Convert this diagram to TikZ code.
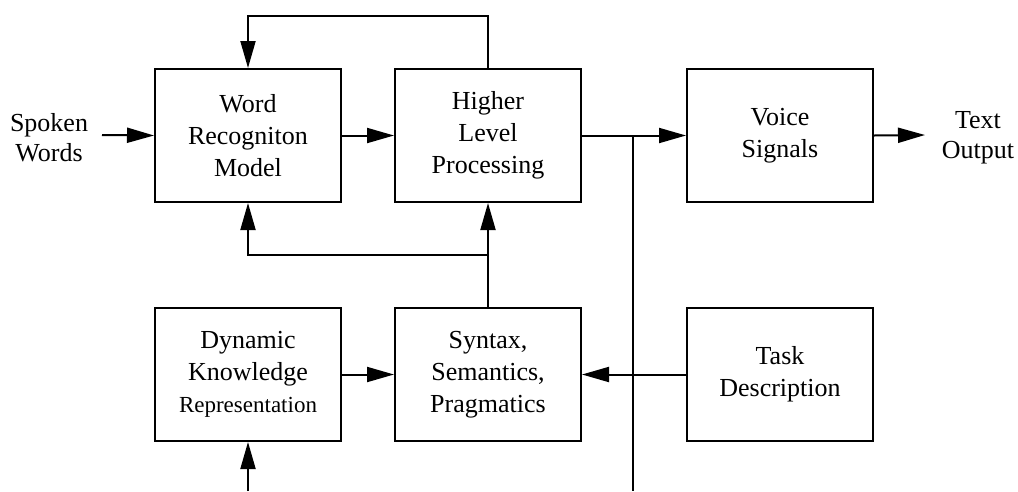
\documentclass[tikz,border=0pt]{standalone}
\usepackage{fontspec}
\setmainfont{Liberation Serif}
\usetikzlibrary{arrows.meta}
\begin{document}
\begin{tikzpicture}[x=1pt,y=-1pt,
  blk/.style={draw, line width=2pt, minimum width=186pt, minimum height=133pt, inner sep=0pt, align=center, font=\fontsize{26}{32}\selectfont},
  lbl/.style={inner sep=0pt, align=center, font=\fontsize{26}{30}\selectfont},
  conn/.style={line width=2pt},
  arr/.style={line width=2pt, -{Triangle[length=27pt,width=15pt]}}]
\useasboundingbox (0,0) rectangle (1018,491);
\node[blk] (word) at (248,135.5) {Word\\Recogniton\\Model};
\node[blk] (higher) at (488,135.5) {Higher\\Level\\Processing};
\node[blk] (voice) at (780,135.5) {Voice\\Signals};
\node[blk] (dyn) at (248,374.5) {Dynamic\\Knowledge\\{\fontsize{23}{30}\selectfont Representation}};
\node[blk] (syn) at (488,374.5) {Syntax,\\Semantics,\\Pragmatics};
\node[blk] (task) at (780,374.5) {Task\\Description};
\node[lbl] (sw) at (49,138) {Spoken\\Words};
\node[lbl] (to) at (978,138) {Text\\Output};
\coordinate (swout) at (102,135);
\coordinate (toin) at (925,135);
\coordinate (top) at (488,16);
\coordinate (mid) at (488,255);
\coordinate (br) at (633,135);
\coordinate (brend) at (633,491);
\coordinate (dynin) at (248,491);
\draw[arr] (swout) -- (word.west);
\draw[arr] (word.east) -- (higher.west);
\draw[arr] (higher.east) -- (voice.west);
\draw[arr] (voice.east) -- (toin);
\draw[conn] (br) -- (brend);
\draw[arr] (higher.north) -- (top) -| (word.north);
\draw[arr] (syn.north) -- (higher.south);
\draw[arr] (mid) -| (word.south);
\draw[arr] (dyn.east) -- (syn.west);
\draw[arr] (task.west) -- (syn.east);
\draw[arr] (dynin) -- (dyn.south);
\end{tikzpicture}
\end{document}
